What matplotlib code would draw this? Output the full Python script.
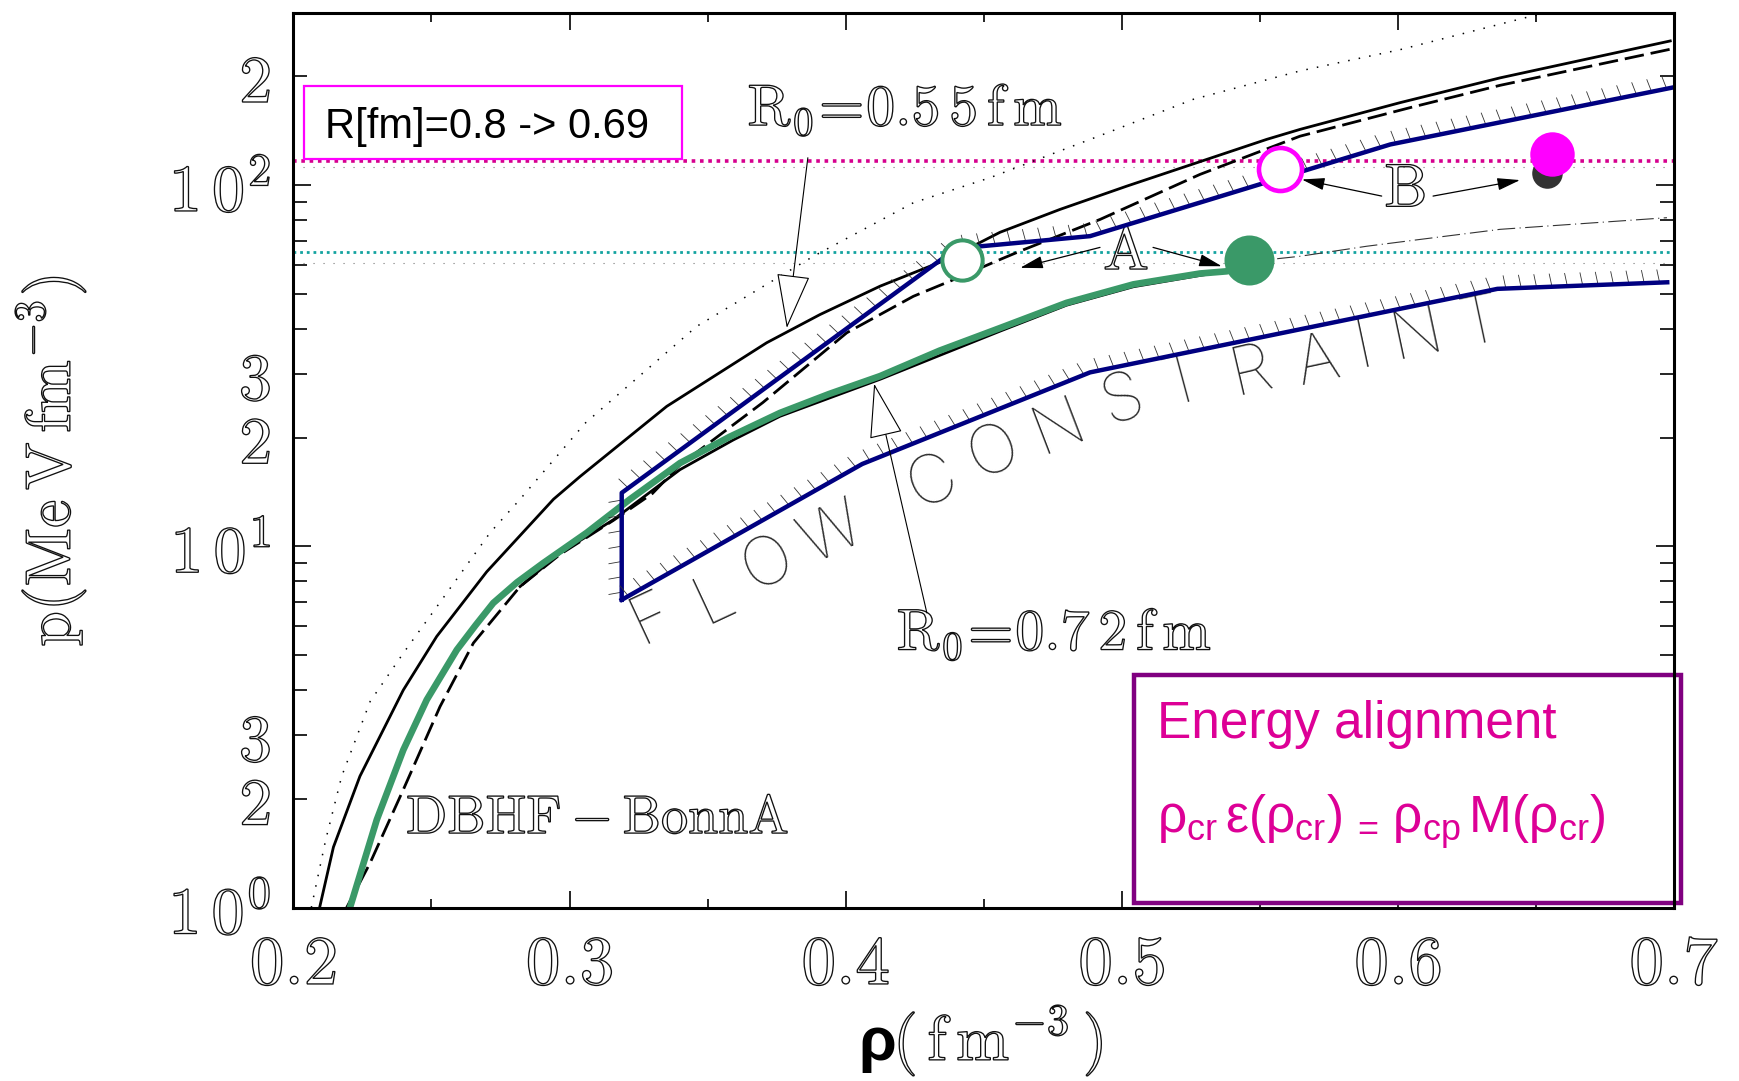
import numpy as np
import matplotlib
matplotlib.use("Agg")
import matplotlib.pyplot as plt
from matplotlib import patheffects as pe
from matplotlib import font_manager as fm
from matplotlib.patches import Rectangle

plt.rcParams['mathtext.fontset'] = 'cm'
# used only by the formula in the box (math_fontfamily='custom')
plt.rcParams['mathtext.rm'] = 'Liberation Sans'
plt.rcParams['mathtext.it'] = 'Liberation Sans:italic'
plt.rcParams['mathtext.bf'] = 'Liberation Sans:bold'
plt.rcParams['mathtext.sf'] = 'Liberation Sans'

# ---- data (rho in fm^-3, p in MeV fm^-3) ----
rho_hi = [0.2095, 0.2145, 0.2241, 0.2398, 0.2519, 0.2700, 0.2942, 0.3038, 0.3352, 0.3714,
          0.3907, 0.4125, 0.4366, 0.4559, 0.4776, 0.5018, 0.5525, 0.5646, 0.6007, 0.6370, 0.6986]
p_hi = [1.00, 1.47, 2.31, 4.0, 5.63, 8.5, 13.5, 15.6, 24.4, 36.6,
        43.8, 52.5, 62.2, 74.0, 85.6, 99.3, 133.8, 142.6, 169, 198, 250.5]

rho_dot = [0.2065, 0.2117, 0.2175, 0.2278, 0.2398, 0.2555, 0.2712, 0.2821, 0.3056, 0.3460,
           0.3883, 0.4245, 0.4523, 0.4921, 0.5259, 0.5646, 0.6008, 0.6533]
p_dot = [1.0, 1.54, 2.31, 3.72, 5.06, 7.42, 10.9, 13.5, 21.9, 40.6,
         63.5, 89.3, 104.8, 137, 172.7, 207, 237, 300]

rho_dash = [0.2193, 0.2278, 0.2398, 0.2531, 0.2652, 0.2821, 0.2966, 0.3159, 0.3300, 0.3400,
            0.3700, 0.4004, 0.4245, 0.4378, 0.4559, 0.4631, 0.4921, 0.5283, 0.5645, 0.6043,
            0.6370, 0.6986]
p_dash = [1.0, 1.33, 2.12, 3.6, 5.4, 7.74, 9.5, 11.8, 14.0, 16.8,
          25.0, 39.0, 49.2, 54.2, 62.2, 65.6, 80.3, 107, 136.5, 163.7,
          188.8, 237.6]

rho_lo = [0.2821, 0.2966, 0.3159, 0.3400, 0.3593, 0.3762, 0.4125, 0.4559, 0.4800, 0.5042, 0.5283, 0.5400]
p_lo = [7.74, 9.58, 11.85, 16.3, 19.7, 22.9, 29.0, 39.4, 46.5, 52.3, 56.2, 58.0]

rho_dd = [0.5462, 0.5561, 0.5645, 0.5887, 0.6080, 0.6370, 0.6974]
p_dd = [62.0, 62.5, 63.5, 67.7, 70.7, 75.4, 81.2]

rho_g = [0.2205, 0.2302, 0.2398, 0.2483, 0.2592, 0.2660, 0.2724, 0.2810, 0.2905, 0.3062,
         0.3219, 0.3400, 0.3580, 0.3762, 0.3940, 0.4125, 0.4340, 0.4559, 0.4800, 0.5042,
         0.5283, 0.5380, 0.5450]
p_g = [1.0, 1.75, 2.73, 3.76, 5.17, 6.05, 6.97, 7.95, 8.99, 10.9,
       13.5, 17.0, 20.1, 23.4, 26.4, 29.6, 34.8, 40.2, 47.2, 53.1,
       56.9, 57.7, 59.5]

# flow constraint band
rho_flow_up = [0.3189, 0.3189, 0.4400, 0.4885, 0.5972, 0.7000]
p_flow_up = [7.11, 14.06, 66.7, 72.2, 129.5, 186.5]
rho_flow_lo = [0.3189, 0.4060, 0.4885, 0.6360, 0.6975]
p_flow_lo = [7.11, 16.9, 30.3, 51.6, 53.8]

# transition points
rho_A = [0.442, 0.5462]
p_A = [62.2, 62.2]
rho_B = [0.5571, 0.6557]
p_B = [111.0, 121.6]
rho_B_old, p_B_old = 0.6541, 107.7

p_mag, p_mag2 = 116.5, 112.5
p_teal, p_teal2 = 65.3, 61.0

x_major = [0.2, 0.3, 0.4, 0.5, 0.6, 0.7]
x_major_lab = [r'$0.2$', r'$0.3$', r'$0.4$', r'$0.5$', r'$0.6$', r'$0.7$']
x_minor = [0.25, 0.35, 0.45, 0.55, 0.65]
y_major = [1, 10, 100]
y_major_lab = [r'$1\,0^{0}$', r'$1\,0^{1}$', r'$1\,0^{2}$']
y_minor = [2, 3, 4, 5, 6, 7, 8, 9, 20, 30, 40, 50, 60, 70, 80, 90, 200]
y_minor_lab = ['$2$', '$3$', '', '', '', '', '', '', '$2$', '$3$', '', '', '', '', '', '', '$2$']

flow_letters = list("FLOWCONSTRAINT")

GREEN = '#3A9968'
NAVY = '#000080'
MAG = '#FF00FF'
MAGLINE = '#D6008E'
TEAL = '#14A3A0'
OUT = [pe.PathPatchEffect(edgecolor='#111111', facecolor='white', linewidth=0.95)]


def thin_font():
    best = None
    for f in fm.fontManager.ttflist:
        if f.name in ('Roboto', 'Lato', 'Open Sans', 'Inter', 'Noto Sans', 'DejaVu Sans') \
                and f.style == 'normal' and str(f.stretch) in ('normal', 'medium', '500'):
            w = f.weight if isinstance(f.weight, (int, float)) else fm.weight_dict.get(f.weight, 400)
            if best is None or w < best[0]:
                best = (w, f.fname)
    if best is None:
        return fm.FontProperties(family='DejaVu Sans')
    return fm.FontProperties(fname=best[1])


fig = plt.figure(figsize=(17.39, 10.81), dpi=100)
ax = fig.add_axes([0.1687, 0.1604, 0.7940, 0.8279])
ax.set_yscale('log')
ax.set_xlim(0.2, 0.7)
ax.set_ylim(1, 300)

# horizontal reference lines
ax.axhline(p_mag2, color='#777777', lw=0.8, ls=(0, (1, 8)), zorder=2)
ax.axhline(p_teal2, color='#777777', lw=0.8, ls=(0, (1, 8)), zorder=2)
ax.axhline(p_mag, color=MAGLINE, lw=2.6, ls=(0, (1, 1.3)), zorder=2.5)
ax.axhline(p_teal, color=TEAL, lw=2.0, ls=(0, (1, 1.4)), zorder=2.5)

# EoS curves
ax.plot(rho_dot, p_dot, color='k', lw=1.1, ls=(0, (1, 6)), zorder=3)
ax.plot(rho_hi, p_hi, color='k', lw=2.0, zorder=3)
ax.plot(rho_dash, p_dash, color='k', lw=2.0, ls=(0, (7, 2.5)), zorder=3)
ax.plot(rho_lo, p_lo, color='k', lw=2.0, zorder=3)
ax.plot(rho_dd, p_dd, color='#333333', lw=0.8, ls=(0, (16, 4, 1, 4)), zorder=3)
ax.plot(rho_g, p_g, color=GREEN, lw=4.8, solid_capstyle='round', solid_joinstyle='round', zorder=4)

# flow constraint with hatch ticks
tick_fx = [pe.withTickedStroke(spacing=11, angle=100, length=0.85, linewidth=0.6, foreground='#333333')]
ax.plot(rho_flow_up, p_flow_up, color=NAVY, lw=3.2, zorder=5, path_effects=tick_fx)
ax.plot(rho_flow_lo, p_flow_lo, color=NAVY, lw=3.2, zorder=5, path_effects=tick_fx)

# transition markers
ax.plot(rho_A[0], p_A[0], 'o', ms=29, mfc='white', mec=GREEN, mew=2.9, zorder=7)
ax.plot(rho_A[1], p_A[1], 'o', ms=36, mfc=GREEN, mec=GREEN, mew=0, zorder=7)
ax.plot(rho_B_old, p_B_old, 'o', ms=22, mfc='#333333', mec='#333333', mew=0, zorder=7)
ax.plot(rho_B[0], p_B[0], 'o', ms=31, mfc='white', mec=MAG, mew=3.3, zorder=7)
ax.plot(rho_B[1], p_B[1], 'o', ms=32, mfc=MAG, mec=MAG, mew=0, zorder=8)

# arrows
hollow = dict(arrowstyle='-|>,head_length=1.8,head_width=0.55', mutation_scale=20,
              fc='white', ec='black', lw=0.8, shrinkA=0, shrinkB=0)
solid = dict(arrowstyle='-|>,head_length=1.4,head_width=0.38', mutation_scale=10,
             fc='black', ec='black', lw=0.9, shrinkA=0, shrinkB=0)
ax.annotate('', xy=(0.3787, 40.2), xytext=(0.3863, 119), arrowprops=hollow, zorder=6)
ax.annotate('', xy=(0.4103, 28.2), xytext=(0.4294, 6.54), arrowprops=hollow, zorder=6)
ax.annotate('', xy=(0.4632, 59.0), xytext=(0.4921, 67.2), arrowprops=solid, zorder=6)
ax.annotate('', xy=(0.5362, 59.6), xytext=(0.5113, 67.2), arrowprops=solid, zorder=6)
ax.annotate('', xy=(0.5652, 103.6), xytext=(0.5941, 93.2), arrowprops=solid, zorder=6)
ax.annotate('', xy=(0.6442, 103.2), xytext=(0.6127, 93.2), arrowprops=solid, zorder=6)

# labels inside the plot
ax.text(0.443, 0.874, r'$\mathrm{R_0\!=\!0.5\,5\,f\,m}$', transform=ax.transAxes, fontsize=42,
        ha='center', va='baseline', path_effects=OUT)
ax.text(0.551, 0.288, r'$\mathrm{R_0\!=\!0.7\,2\,f\,m}$', transform=ax.transAxes, fontsize=42,
        ha='center', va='baseline', path_effects=OUT)
ax.text(0.2203, 0.083, r'$\mathrm{DBHF-BonnA}$', transform=ax.transAxes, fontsize=39,
        ha='center', va='baseline', path_effects=OUT)
ax.text(0.6031, 0.7132, r'$\mathrm{A}$', transform=ax.transAxes, fontsize=44,
        ha='center', va='baseline', path_effects=OUT)
ax.text(0.8052, 0.7831, r'$\mathrm{B}$', transform=ax.transAxes, fontsize=44,
        ha='center', va='baseline', path_effects=OUT)

# FLOW CONSTRAINT, letter by letter along the band
flow_x = [0.2595, 0.3052, 0.3438, 0.3905, 0.4632, 0.5077, 0.5546, 0.6012, 0.6449, 0.6940,
          0.7418, 0.7750, 0.8137, 0.8602]
flow_y = [0.3213, 0.3437, 0.3828, 0.4163, 0.4741, 0.5076, 0.5355, 0.5652, 0.5850, 0.5970,
          0.6082, 0.6249, 0.6379, 0.6510]
flow_rot = [25, 25, 25, 25, 24, 23, 21, 18, 15, 13, 12, 12, 12, 12]
fp = thin_font()
fp.set_size(48)
for ch, fx, fy, rot in zip(flow_letters, flow_x, flow_y, flow_rot):
    ax.text(fx, fy, ch, transform=ax.transAxes, fontproperties=fp, color='#2a2a2a',
            rotation=rot, rotation_mode='anchor', ha='center', va='center', zorder=3)

# boxes
ax.add_patch(Rectangle((0.0075, 0.8363), 0.274, 0.0817, transform=ax.transAxes,
                       fc='white', ec=MAG, lw=1.6, zorder=9))
ax.text(0.023, 0.860, 'R[fm]=0.8 -> 0.69', transform=ax.transAxes, fontsize=30,
        family='Liberation Sans', ha='left', va='baseline', zorder=10)

ax.add_patch(Rectangle((0.609, 0.005), 0.396, 0.255, transform=ax.transAxes,
                       fc='white', ec='#800080', lw=3.2, zorder=9, clip_on=False))
ax.text(0.6256, 0.190, 'Energy alignment', transform=ax.transAxes, fontsize=37,
        family='Liberation Sans', color='#DD0096', ha='left', va='baseline', zorder=10)
ax.text(0.6256, 0.0834, r'$\mathrm{ρ_{cr}\,ε(ρ_{cr})\,{}_{=}\,ρ_{cp}\,M(ρ_{cr})}$',
        transform=ax.transAxes, fontsize=37, math_fontfamily='custom', color='#DD0096',
        ha='left', va='baseline', zorder=10)

# axes styling
for s in ax.spines.values():
    s.set_linewidth(2.2)
    s.set_zorder(11)
ax.set_xticks(x_major, labels=x_major_lab)
ax.set_xticks(x_minor, minor=True)
ax.set_yticks(y_major, labels=y_major_lab)
ax.set_yticks(y_minor, labels=y_minor_lab, minor=True)
ax.tick_params(which='both', direction='in', top=True, right=True, width=1.2, colors='k')
ax.tick_params(axis='x', which='major', length=12, pad=17, labelsize=50)
ax.tick_params(axis='x', which='minor', length=6.5)
ax.tick_params(axis='y', which='major', length=13, pad=16, labelsize=48)
ax.tick_params(axis='y', which='minor', length=10, pad=16, labelsize=48)
for lab in ax.get_xticklabels() + ax.get_yticklabels() + ax.get_yticklabels(minor=True):
    lab.set_path_effects(OUT)

# axis titles
fig.text(0.0288, 0.5735, r'$\mathrm{p(Me\,V\,fm^{-3})}$', rotation=90, fontsize=46,
         ha='center', va='center', path_effects=OUT)
fig.text(858 / 1739, 1 - 1060 / 1081, 'ρ', fontsize=44, fontweight='bold',
         family='Liberation Sans', ha='left', va='baseline')
fig.text(893 / 1739, 1 - 1060 / 1081, r'$\mathrm{(\,f\,m^{-3}\,)}$', fontsize=46,
         ha='left', va='baseline', path_effects=OUT)

fig.savefig('out.png', dpi=100)
